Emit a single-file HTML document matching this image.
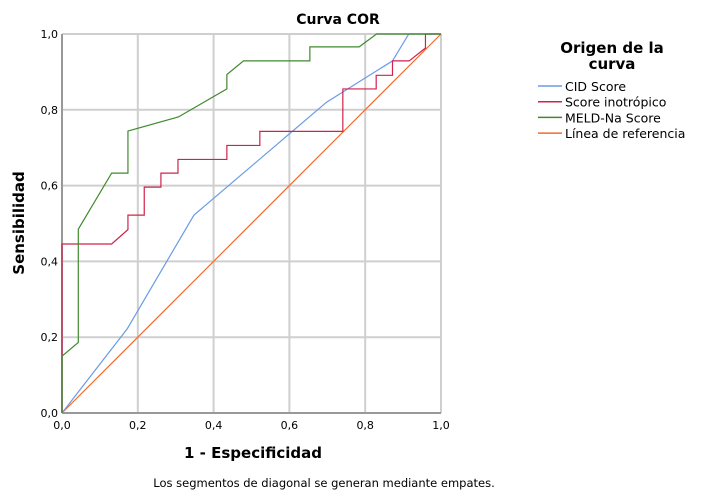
<!DOCTYPE html>
<html><head><meta charset="utf-8"><style>
body{margin:0;background:#fff;width:704px;height:497px;overflow:hidden;font-family:"DejaVu Sans","Liberation Sans",sans-serif}
</style></head><body>
<svg id="chart" width="704" height="497" xmlns="http://www.w3.org/2000/svg" font-family="'DejaVu Sans','Liberation Sans',sans-serif">
<text x="338" y="24" text-anchor="middle" font-size="14" font-weight="bold">Curva COR</text>
<g id="grid"></g>
<g id="series"></g>
<g id="ticks"></g>
<text x="253" y="458" text-anchor="middle" font-size="15" font-weight="bold">1 - Especificidad</text>
<text transform="translate(24,223) rotate(-90)" text-anchor="middle" font-size="15" font-weight="bold">Sensibilidad</text>
<text x="324" y="487" text-anchor="middle" font-size="11.5">Los segmentos de diagonal se generan mediante empates.</text>
<g>
<text x="612" y="53" text-anchor="middle" font-size="15" font-weight="bold">Origen de la</text>
<text x="612" y="69" text-anchor="middle" font-size="15" font-weight="bold">curva</text>
<g id="legend-items"></g>
</g>
</svg>
<script>
const tickLabels = ["0,0","0,2","0,4","0,6","0,8","1,0"];
const tickValues = [0,0.2,0.4,0.6,0.8,1.0];
const seriesNames = ["CID Score","Score inotrópico","MELD-Na Score","Línea de referencia"];
const seriesColors = ["#6a9be5","#d0224a","#3f8a2e","#f26b2a"];
const cidX = [0,0.172,0.348,0.698,0.872,0.915,1];
const cidY = [0,0.222,0.522,0.820,0.929,1,1];
const inoX = [0,0,0.131,0.174,0.174,0.217,0.217,0.261,0.261,0.306,0.306,0.435,0.435,0.522,0.522,0.741,0.741,0.829,0.829,0.872,0.872,0.916,0.959,0.959,1];
const inoY = [0,0.446,0.446,0.484,0.522,0.522,0.596,0.596,0.633,0.633,0.669,0.669,0.706,0.706,0.743,0.743,0.855,0.855,0.891,0.891,0.929,0.929,0.963,1,1];
const meldX = [0,0,0.043,0.043,0.131,0.174,0.174,0.307,0.435,0.435,0.479,0.654,0.654,0.784,0.830,1];
const meldY = [0,0.150,0.186,0.485,0.633,0.633,0.744,0.781,0.855,0.893,0.929,0.929,0.966,0.966,1,1];
const refX = [0,1];
const refY = [0,1];

const X0=62,X1=441,Y0=413,Y1=34;
const sx=v=>X0+v*(X1-X0), sy=v=>Y0-v*(Y0-Y1);
const NS="http://www.w3.org/2000/svg";
function mk(tag,attrs,parent){const e=document.createElementNS(NS,tag);for(const k in attrs)e.setAttribute(k,attrs[k]);parent.appendChild(e);return e;}
const grid=document.getElementById('grid'), ticks=document.getElementById('ticks'), ser=document.getElementById('series');
tickValues.forEach((v,i)=>{
  if(v>0){
    const gv=mk('line',{x1:sx(v),x2:sx(v),y1:Y0,y2:Y1,stroke:'#cfcfcf','stroke-width':2},grid);
    
    
    const gh=mk('line',{x1:X0,x2:X1,y1:sy(v),y2:sy(v),stroke:'#cfcfcf','stroke-width':2},grid);
    
    
  }
  const tx=mk('text',{x:sx(v),y:Y0+16,'text-anchor':'middle','font-size':11},ticks);
  tx.textContent=tickLabels[i];
  
  
  const ty=mk('text',{x:X0-4,y:sy(v)+4,'text-anchor':'end','font-size':11},ticks);
  ty.textContent=tickLabels[i];
  
  
});
const ax=mk('line',{x1:X0,x2:X1,y1:Y0,y2:Y0,stroke:'#999','stroke-width':2},grid);


const ay=mk('line',{x1:X0,x2:X0,y1:Y0,y2:Y1,stroke:'#999','stroke-width':2},grid);


const all=[[cidX,cidY],[inoX,inoY],[meldX,meldY],[refX,refY]];
const order=[3,0,1,2];
const names=['line-cid-score','line-score-inotropico','line-meld-na-score','line-referencia'];
order.forEach(i=>{
  const [xs,ys]=all[i];
  const p=mk('polyline',{points:xs.map((x,j)=>sx(x)+','+sy(ys[j])).join(' '),fill:'none',stroke:seriesColors[i],'stroke-width':1.2},ser);
  
  
});
const li=document.getElementById('legend-items');
seriesNames.forEach((n,i)=>{
  const y=86+i*15.7;
  const l=mk('line',{x1:538,x2:562,y1:y,y2:y,stroke:seriesColors[i],'stroke-width':1.5},li);
  
  
  const t=mk('text',{x:565,y:y+5,'font-size':12.5},li);
  t.textContent=n;
  
  
});
</script>
</body></html>
